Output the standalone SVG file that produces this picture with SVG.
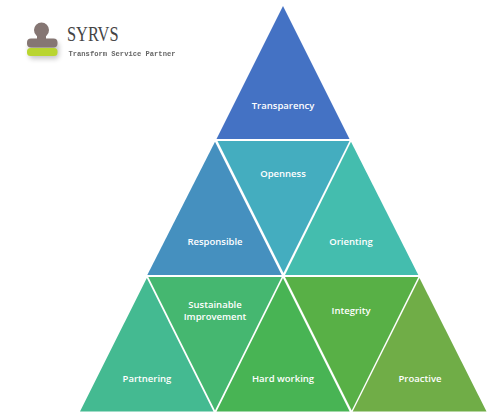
<svg xmlns="http://www.w3.org/2000/svg" width="496" height="416" viewBox="0 0 496 416">
<style>
.t{font-family:"Open Sans","Liberation Sans",sans-serif;font-size:9.5px;font-weight:600;fill:#fff;text-anchor:middle}
</style>
<defs>
<filter id="sh" x="-30%" y="-30%" width="170%" height="170%"><feGaussianBlur stdDeviation="2.500"/></filter>
<filter id="sb" x="-5%" y="-20%" width="110%" height="140%"><feGaussianBlur stdDeviation="0.350"/></filter>
</defs>
<rect width="496" height="416" fill="#fff"/>
<g id="logo">
<g fill="#000" opacity=".22" filter="url(#sh)" transform="translate(2,3)"><rect x="27" y="39" width="30" height="17" rx="4"/></g>
<circle cx="41.500" cy="30" r="7.500" fill="#857673"/>
<rect x="37" y="34" width="9" height="8" fill="#857673"/>
<rect x="27" y="38.500" width="30.500" height="9" rx="4" fill="#857673"/>
<rect x="27" y="48" width="30.500" height="8" rx="3.500" fill="#b9d530"/>
<text x="67" y="41" font-family="Liberation Serif,serif" font-size="21" fill="#444" textLength="51.500" lengthAdjust="spacingAndGlyphs">SYRVS</text>
<text x="68.500" y="55.500" font-family="Liberation Mono,monospace" font-size="7.500" font-weight="700" fill="#666" filter="url(#sb)" textLength="107" lengthAdjust="spacingAndGlyphs">Transform Service Partner</text>
</g>
<g id="transparency"><polygon points="283,6 349.500,139 216.500,139" fill="#4472c4"/><text class="t" x="283" y="109">Transparency</text></g>
<g id="responsible"><polygon points="215,141.700 281.700,275 147.300,275" fill="#4590bf"/><text class="t" x="215" y="245">Responsible</text></g>
<g id="openness"><polygon points="217.500,141 349.500,141 283.500,273" fill="#44adbf"/><text class="t" x="283" y="177">Openness</text></g>
<g id="orienting"><polygon points="351,141.700 418.300,275 285,275" fill="#44bdae"/><text class="t" x="351" y="245">Orienting</text></g>
<g id="partnering"><polygon points="146.800,278 213.500,411.500 80,411.500" fill="#44ba91"/><text class="t" x="147" y="382">Partnering</text></g>
<g id="sustainable"><polygon points="148.300,277 281.700,277 215,410.500" fill="#45b770"/><text class="t" x="215" y="308">Sustainable</text><text class="t" x="215" y="320">Improvement</text></g>
<g id="hardworking"><polygon points="283,278 349.700,411.500 216.500,411.500" fill="#48b454"/><text class="t" x="283" y="382">Hard working</text></g>
<g id="integrity"><polygon points="285,277 418.300,277 351.700,410.500" fill="#58b046"/><text class="t" x="351" y="314">Integrity</text></g>
<g id="proactive"><polygon points="419.500,278 486.500,411.500 352.700,411.500" fill="#70ad47"/><text class="t" x="420" y="382">Proactive</text></g>
</svg>
